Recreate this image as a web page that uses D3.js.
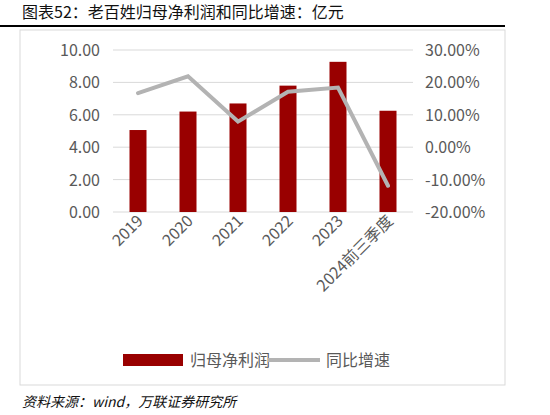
<!DOCTYPE html><html><head><meta charset="utf-8"><script src="https://cdn.jsdelivr.net/npm/d3@7"></script>
<style>body{margin:0;background:#fff}text{font-family:"Noto Sans CJK SC","DejaVu Sans",sans-serif}</style></head><body>
<svg id="c" width="550" height="415"></svg>
<script>
const categories=["2019","2020","2021","2022","2023","2024前三季度"];
const profit=[5.06,6.2,6.7,7.8,9.27,6.25];
const growth=[16.7,21.9,7.9,17.1,18.4,-11.9];
const leftTicks=[0,2,4,6,8,10];
const rightTicks=[-20,-10,0,10,20,30];
const svg=d3.select("#c");
svg.append("text").attr("x",22).attr("y",18).attr("font-size",16).attr("fill","#111").text("图表52：老百姓归母净利润和同比增速：亿元");
svg.append("line").attr("x1",0).attr("x2",505).attr("y1",26).attr("y2",26).attr("stroke","#000").attr("stroke-width",2);
svg.append("rect").attr("x",20).attr("y",30).attr("width",485).attr("height",355).attr("fill","none").attr("stroke","#d9d9d9");
const x=d3.scaleBand().domain(categories).range([113,413]);
const yL=d3.scaleLinear().domain([0,10]).range([212,50]);
const yR=d3.scaleLinear().domain([-20,30]).range([212,50]);
leftTicks.forEach(t=>svg.append("line").attr("x1",113).attr("x2",413).attr("y1",yL(t)).attr("y2",yL(t)).attr("stroke","#d9d9d9"));
leftTicks.forEach(t=>svg.append("text").attr("x",100).attr("y",yL(t)+6).attr("text-anchor","end").attr("font-size",16).attr("fill","#595959").text(t.toFixed(2).replace("."," .").replace(" ","")));
rightTicks.forEach(t=>svg.append("text").attr("x",425).attr("y",yR(t)+6).attr("font-size",16).attr("fill","#595959").text(t.toFixed(2)+"%"));
svg.selectAll(".b").data(profit).join("rect").attr("x",(d,i)=>x(categories[i])+x.bandwidth()/2-8.5).attr("width",17).attr("y",d=>yL(d)).attr("height",d=>212-yL(d)).attr("fill","#990000");
svg.append("path").datum(growth).attr("d",d3.line().x((d,i)=>x(categories[i])+x.bandwidth()/2).y(d=>yR(d))).attr("fill","none").attr("stroke","#b3b3b3").attr("stroke-width",4).attr("stroke-linecap","round");
categories.forEach(c=>{const cx=x(c)+x.bandwidth()/2+6;svg.append("text").attr("transform",`translate(${cx},222) rotate(-45)`).attr("text-anchor","end").attr("font-size",16).attr("fill","#595959").text(c);});
svg.append("rect").attr("x",123).attr("y",354).attr("width",60).attr("height",12).attr("fill","#990000");
svg.append("text").attr("x",190).attr("y",366).attr("font-size",16).attr("fill","#595959").text("归母净利润");
svg.append("line").attr("x1",268).attr("x2",320).attr("y1",360).attr("y2",360).attr("stroke","#b3b3b3").attr("stroke-width",4);
svg.append("text").attr("x",326).attr("y",366).attr("font-size",16).attr("fill","#595959").text("同比增速");
svg.append("text").attr("x",22).attr("y",407).attr("font-size",14).attr("font-style","italic").attr("fill","#111").text("资料来源：wind，万联证券研究所");
</script></body></html>
